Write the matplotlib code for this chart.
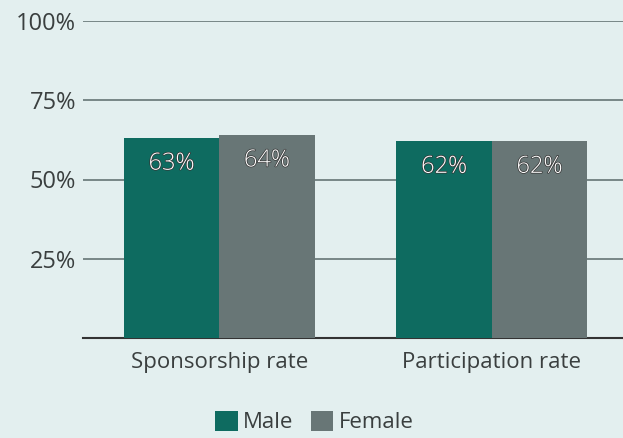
import matplotlib
matplotlib.use('Agg')
import matplotlib.pyplot as plt
import matplotlib.patheffects as pe
import numpy as np

categories = ['Sponsorship rate', 'Participation rate']
male = [63, 62]
female = [64, 62]
yticks = [25, 50, 75, 100]

bg = '#e3efef'
male_color = '#0e6b60'
female_color = '#687676'
text_color = '#3a3f3f'

plt.rcParams['font.family'] = ['Open Sans', 'DejaVu Sans']

fig = plt.figure(figsize=(6.23, 4.38), dpi=100, facecolor=bg)
ax = fig.add_axes([83 / 623, 100 / 438, 545 / 623, 317 / 438], facecolor=bg)

x = np.arange(len(categories))
w = 0.35
b1 = ax.bar(x - w / 2, male, w, color=male_color, label='Male', zorder=3)
b2 = ax.bar(x + w / 2, female, w, color=female_color, label='Female', zorder=3)

stroke = [pe.withStroke(linewidth=1.0, foreground='#333333')]
for bars in (b1, b2):
    for rect in bars:
        h = rect.get_height()
        ax.text(rect.get_x() + rect.get_width() / 2, h - 8, f'{h:.0f}%',
                ha='center', va='center', color='white', fontsize=17,
                fontweight='light', path_effects=stroke, zorder=4)

ax.set_xlim(-0.5, 1.5)
ax.set_ylim(0, 100)
ax.set_yticks(yticks)
ax.set_yticklabels([f'{t}%' for t in yticks])
ax.set_xticks(x)
ax.set_xticklabels(categories)
ax.yaxis.grid(True, color='#6f7f7f', linewidth=1.3, zorder=1)
ax.tick_params(length=0, labelsize=16, labelcolor=text_color)
ax.tick_params(axis='y', pad=5, labelsize=17)
ax.tick_params(axis='x', pad=10)
for s in ['top', 'right', 'left']:
    ax.spines[s].set_visible(False)
ax.spines['bottom'].set_color('#333333')
ax.spines['bottom'].set_linewidth(1.5)

fig.legend(loc='lower center', bbox_to_anchor=(0.505, -0.035), ncol=2,
           frameon=False, fontsize=16, handlelength=1.0, handleheight=1.0,
           handletextpad=0.25, columnspacing=0.8, labelcolor=text_color)

fig.savefig('out.png', dpi=100, facecolor=bg)
